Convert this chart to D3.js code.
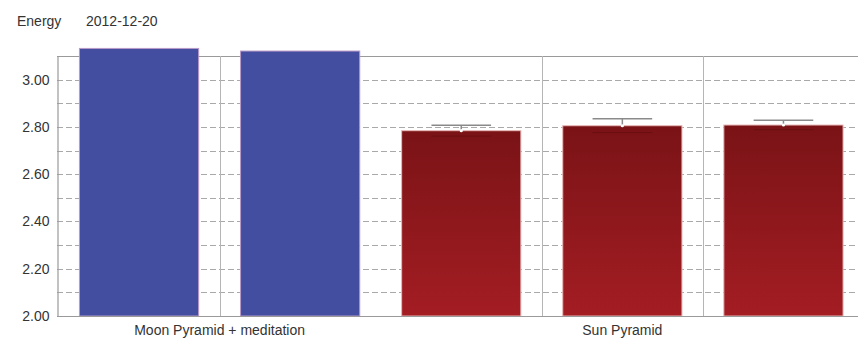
<!DOCTYPE html>
<html>
<head>
<meta charset="utf-8">
<script src="https://cdn.jsdelivr.net/npm/d3@7"></script>
<style>
  html, body { margin: 0; padding: 0; background: #fff; }
  svg { display: block; font-family: "Liberation Sans", Arial, sans-serif; }
</style>
</head>
<body>
<svg id="chart" width="858" height="339"></svg>
<script>
// Energy readings, 2012-12-20
const barIds = ["moon-a", "moon-b", "sun-a", "sun-b", "sun-c"];
const barGroups = ["Moon Pyramid + meditation", "Moon Pyramid + meditation", "Sun Pyramid", "Sun Pyramid", "Sun Pyramid"];
const energyValues = [3.132, 3.121, 2.784, 2.805, 2.808];
const errorValues = [null, null, 0.023, 0.029, 0.02];
const groupNames = ["Moon Pyramid + meditation", "Sun Pyramid"];
const yTickValues = [2.0, 2.2, 2.4, 2.6, 2.8, 3.0];
const yGridValues = [2.1, 2.2, 2.3, 2.4, 2.5, 2.6, 2.7, 2.8, 2.9, 3.0];
const yDomain = [2.0, 3.1];

const svg = d3.select("#chart");
const W = 858;
const plotLeft = 57, plotBottom = 316, plotTop = 56;

const y = d3.scaleLinear().domain(yDomain).range([plotBottom, plotTop]);
const x = d3.scaleBand().domain(barIds).range([58.5, 864]).paddingInner(0.26).paddingOuter(0.13);
const step = x.step();

const defs = svg.append("defs");
const grad = defs.append("linearGradient").attr("id", "sunFill")
  .attr("x1", 0).attr("y1", 0).attr("x2", 0).attr("y2", 1);
grad.append("stop").attr("offset", "0%").attr("stop-color", "#7a1316");
grad.append("stop").attr("offset", "100%").attr("stop-color", "#a31d23");

// horizontal grid
svg.append("g").selectAll("line").data(yGridValues).join("line")
  .attr("x1", plotLeft).attr("x2", W)
  .attr("y1", d => Math.round(y(d)) + 0.5).attr("y2", d => Math.round(y(d)) + 0.5)
  .attr("stroke", "#a9a9a9").attr("stroke-width", 1).attr("stroke-dasharray", "6,3");

// top border
svg.append("line")
  .attr("x1", plotLeft).attr("x2", W)
  .attr("y1", Math.round(y(yDomain[1])) + 0.5).attr("y2", Math.round(y(yDomain[1])) + 0.5)
  .attr("stroke", "#9a9a9a");

// vertical grid between neighbouring bars of the same group
const innerBounds = barIds.slice(1).filter((id, i) => barGroups[i + 1] === barGroups[i]);
svg.append("g").selectAll("line").data(innerBounds).join("line")
  .attr("x1", d => Math.round(x(d) - step * x.paddingInner() / 2) + 0.5)
  .attr("x2", d => Math.round(x(d) - step * x.paddingInner() / 2) + 0.5)
  .attr("y1", y(yDomain[1])).attr("y2", plotBottom)
  .attr("stroke", "#b5b5b5");

// y axis
const yAxis = d3.axisLeft(y).tickValues(yTickValues).tickFormat(d3.format(".2f")).tickSize(0).tickPadding(8);
const ya = svg.append("g").attr("transform", `translate(${plotLeft + 0.5},0)`).call(yAxis);
ya.select(".domain").attr("stroke", "#9a9a9a").attr("stroke-width", 1.2);
ya.selectAll("text").attr("font-size", 14).attr("fill", "#333")
  .attr("font-family", "Liberation Sans, Arial, sans-serif");

// bars
svg.append("g").selectAll("rect").data(barIds).join("rect")
  .attr("x", d => x(d))
  .attr("width", x.bandwidth())
  .attr("y", (d, i) => y(energyValues[i]))
  .attr("height", (d, i) => plotBottom - y(energyValues[i]))
  .attr("fill", (d, i) => barGroups[i] === groupNames[0] ? "#434ea1" : "url(#sunFill)")
  .attr("stroke", (d, i) => barGroups[i] === groupNames[0] ? "#b99ac8" : "#e9b7b7")
  .attr("stroke-width", 1);

// bottom axis line
svg.append("line").attr("x1", plotLeft).attr("x2", W)
  .attr("y1", plotBottom + 0.5).attr("y2", plotBottom + 0.5)
  .attr("stroke", "#9a9a9a").attr("stroke-width", 1.2);

// error bars
const errG = svg.append("g");
barIds.forEach((id, i) => {
  const e = errorValues[i];
  if (e == null) return;
  const cx = x(id) + x.bandwidth() / 2;
  const hw = x.bandwidth() / 4;
  const v = energyValues[i];
  errG.append("line").attr("x1", cx).attr("x2", cx)
    .attr("y1", y(v + e)).attr("y2", y(v)).attr("stroke", "#8a8a8a").attr("stroke-width", 1.5);
  errG.append("line").attr("x1", cx - hw).attr("x2", cx + hw)
    .attr("y1", y(v + e)).attr("y2", y(v + e)).attr("stroke", "#8a8a8a").attr("stroke-width", 1.5);
  errG.append("line").attr("x1", cx - hw).attr("x2", cx + hw)
    .attr("y1", y(v - e)).attr("y2", y(v - e)).attr("stroke", "#5e0d10").attr("stroke-width", 1).attr("opacity", 0.6);
  errG.append("circle").attr("cx", cx).attr("cy", y(v)).attr("r", 1.6).attr("fill", "#fff");
});

// group labels
svg.append("g").selectAll("text").data(groupNames).join("text")
  .attr("x", g => d3.mean(barIds.filter((id, i) => barGroups[i] === g), id => x(id) + x.bandwidth() / 2))
  .attr("y", 335)
  .attr("text-anchor", "middle")
  .attr("font-size", 14).attr("fill", "#333")
  .text(g => g);

// header
svg.append("text").attr("x", 17).attr("y", 26).attr("font-size", 14).attr("fill", "#333").text("Energy");
svg.append("text").attr("x", 86).attr("y", 26).attr("font-size", 14).attr("fill", "#333").text("2012-12-20");
</script>
</body>
</html>
